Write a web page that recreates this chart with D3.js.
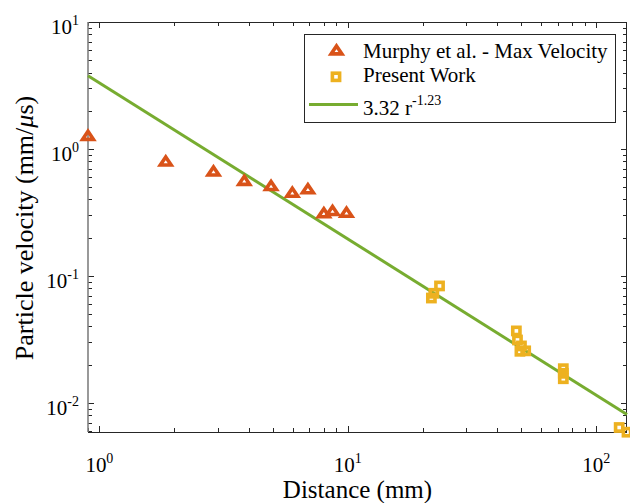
<!DOCTYPE html>
<html>
<head>
<meta charset="utf-8">
<script src="https://cdn.jsdelivr.net/npm/d3@7"></script>
<style>
  body { margin: 0; background: #fff; }
  svg { display: block; font-family: "Liberation Serif", "Times New Roman", serif; }
</style>
</head>
<body>
<svg id="chart" width="630" height="503"></svg>
<script>
// Murphy et al. - max velocity (distance mm, velocity mm/us)
const murphyDist = [0.9, 1.85, 2.88, 3.83, 4.91, 5.98, 6.91, 8.01, 8.68, 9.88];
const murphyVel = [1.29, 0.81, 0.675, 0.57, 0.52, 0.46, 0.49, 0.317, 0.33, 0.32];

// Present work
const presentDist = [21.7, 22.2, 23.4, 47.7, 48.2, 50.0, 49.3, 52.0, 73.7, 73.7, 73.7, 123.7, 133];
const presentVel = [0.067, 0.073, 0.0834, 0.0369, 0.0313, 0.0281, 0.0255, 0.0257, 0.0186, 0.0171, 0.0155, 0.0064, 0.00588];

// power-law fit: v = a * r^b
const fitA = 3.32;
const fitB = -1.23;

const xDomain = [0.9, 133];
const yDomain = [0.0059, 10];
const xMajor = [1, 10, 100];
const yMajor = [0.01, 0.1, 1, 10];

const margin = { top: 22, right: 3, bottom: 71, left: 88 };
const width = 630 - margin.left - margin.right;
const height = 503 - margin.top - margin.bottom;

const svg = d3.select("#chart");
const g = svg.append("g").attr("transform", `translate(${margin.left},${margin.top})`);

const x = d3.scaleLog().domain(xDomain).range([0, width]);
const y = d3.scaleLog().domain(yDomain).range([height, 0]);

const axisColor = "#262626";

// ticks (inward, on all four sides)
const isMajor = v => Math.abs(Math.log10(v) - Math.round(Math.log10(v))) < 1e-9;
const xTicks = x.ticks().filter(v => v >= xDomain[0] && v <= xDomain[1]);
const yTicks = y.ticks().filter(v => v >= yDomain[0] && v <= yDomain[1]);

const tickG = g.append("g").attr("stroke", axisColor).attr("stroke-width", 1);
xTicks.forEach(v => {
  const len = isMajor(v) ? 6 : 4;
  const px = Math.round(x(v)) + 0.5;
  tickG.append("line").attr("x1", px).attr("x2", px).attr("y1", height).attr("y2", height - len);
  tickG.append("line").attr("x1", px).attr("x2", px).attr("y1", 0).attr("y2", len);
});
yTicks.forEach(v => {
  const len = isMajor(v) ? 6 : 4;
  const py = Math.round(y(v)) + 0.5;
  tickG.append("line").attr("x1", 0).attr("x2", len).attr("y1", py).attr("y2", py);
  tickG.append("line").attr("x1", width).attr("x2", width - len).attr("y1", py).attr("y2", py);
});

// box
g.append("line").attr("x1", 0).attr("x2", width).attr("y1", 0.5).attr("y2", 0.5).attr("stroke", axisColor);
g.append("line").attr("x1", 0).attr("x2", width).attr("y1", height + 0.5).attr("y2", height + 0.5).attr("stroke", axisColor);
g.append("line").attr("x1", width - 0.5).attr("x2", width - 0.5).attr("y1", 0).attr("y2", height).attr("stroke", axisColor);
g.append("line").attr("x1", 0).attr("x2", 0).attr("y1", 0).attr("y2", height).attr("stroke", "#808080").attr("stroke-width", 1.6);

// tick labels 10^n
function powerLabel(sel, v) {
  const e = Math.round(Math.log10(v));
  sel.append("tspan").text("10");
  sel.append("tspan").attr("dy", -9).style("font-size", "14px").text(e);
}
xMajor.forEach(v => {
  const t = g.append("text")
    .attr("x", x(v))
    .attr("y", height + 40)
    .attr("text-anchor", "middle")
    .style("font-size", "21px")
    .attr("fill", "#000");
  powerLabel(t, v);
});
yMajor.forEach(v => {
  const t = g.append("text")
    .attr("x", -9)
    .attr("y", y(v) + 12)
    .attr("text-anchor", "end")
    .style("font-size", "21px")
    .attr("fill", "#000");
  powerLabel(t, v);
});

// axis titles
g.append("text")
  .attr("x", width / 2)
  .attr("y", height + 66)
  .attr("text-anchor", "middle")
  .style("font-size", "25px")
  .text("Distance (mm)");

const yTitle = svg.append("text")
  .attr("transform", `translate(33,${margin.top + height / 2 + 1}) rotate(-90)`)
  .attr("text-anchor", "middle")
  .style("font-size", "26px");
yTitle.append("tspan").text("Particle velocity (mm/");
yTitle.append("tspan").style("font-style", "italic").text("μ");
yTitle.append("tspan").text("s)");

// fit line
const fitLine = d3.line().x(d => x(d)).y(d => y(fitA * Math.pow(d, fitB)));
g.append("path")
  .datum(xDomain)
  .attr("d", fitLine)
  .attr("fill", "none")
  .attr("stroke", "#77AC30")
  .attr("stroke-width", 3);

// markers
const triangle = "M0,-3.6L5.4,4.4L-5.4,4.4Z";
const markStroke = 3.6;

g.append("g").selectAll("path")
  .data(murphyDist.map((d, i) => [d, murphyVel[i]]))
  .join("path")
  .attr("transform", d => `translate(${x(d[0])},${y(d[1])})`)
  .attr("d", triangle)
  .attr("fill", "none")
  .attr("stroke", "#D95319")
  .attr("stroke-width", markStroke)
  .attr("stroke-linejoin", "miter");

g.append("g").selectAll("rect")
  .data(presentDist.map((d, i) => [d, presentVel[i]]))
  .join("rect")
  .attr("x", d => x(d[0]) - 3.6)
  .attr("y", d => y(d[1]) - 3.6)
  .attr("width", 7.2)
  .attr("height", 7.2)
  .attr("fill", "none")
  .attr("stroke", "#EDB120")
  .attr("stroke-width", markStroke);

// legend
const lg = svg.append("g");
lg.append("rect")
  .attr("x", 304.5).attr("y", 34.5)
  .attr("width", 311).attr("height", 88)
  .attr("fill", "#fff").attr("stroke", axisColor);
lg.append("path")
  .attr("transform", "translate(336.5,49.5)")
  .attr("d", triangle)
  .attr("fill", "none").attr("stroke", "#D95319").attr("stroke-width", markStroke);
lg.append("rect")
  .attr("x", 332.4).attr("y", 73.2).attr("width", 7.2).attr("height", 7.2)
  .attr("fill", "none").attr("stroke", "#EDB120").attr("stroke-width", markStroke);
lg.append("line")
  .attr("x1", 309).attr("x2", 358).attr("y1", 104.5).attr("y2", 104.5)
  .attr("stroke", "#77AC30").attr("stroke-width", 3);
lg.append("text").attr("x", 363).attr("y", 58).style("font-size", "21px").text("Murphy et al. - Max Velocity");
lg.append("text").attr("x", 363).attr("y", 82).style("font-size", "21px").text("Present Work");
const fitText = lg.append("text").attr("x", 363).attr("y", 115).style("font-size", "21px");
fitText.append("tspan").text("3.32 r");
fitText.append("tspan").attr("dy", -10).style("font-size", "14px").text("-1.23");
</script>
</body>
</html>
